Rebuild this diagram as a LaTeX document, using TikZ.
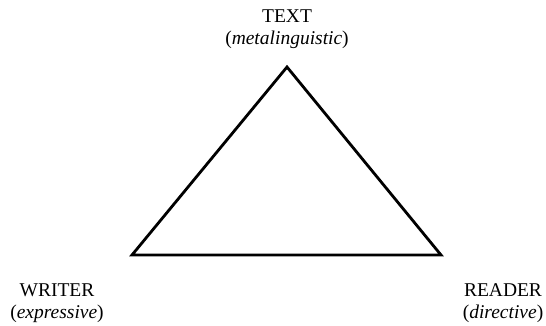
\documentclass[tikz,border=0pt]{standalone}
\usepackage{fontspec}
\setmainfont{Liberation Serif}
\begin{document}
\begin{tikzpicture}[x=1pt,y=-1pt,
  lbl/.style={align=center,font=\fontsize{19.5}{22}\selectfont,inner sep=0pt},
  edge/.style={line width=2.8pt,line join=miter}]
\useasboundingbox (0,0) rectangle (546,326);
\coordinate (T) at (287,67);
\coordinate (W) at (132,255);
\coordinate (R) at (441,255);
\draw[edge] (T) -- (W) -- (R) -- cycle;
\node[lbl] (tl) at (287,29) {TEXT\\(\textit{metalinguistic})};
\node[lbl] (wl) at (57,303) {WRITER\\(\textit{expressive})};
\node[lbl] (rl) at (503,303) {READER\\(\textit{directive})};
\end{tikzpicture}
\end{document}
